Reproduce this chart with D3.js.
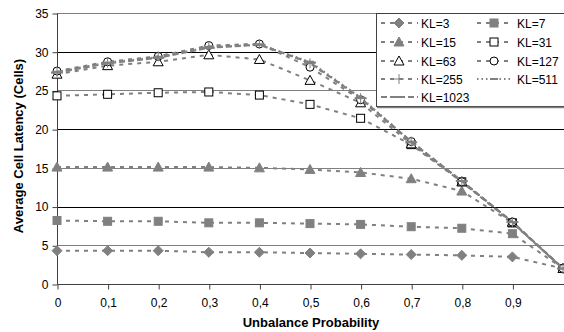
<!DOCTYPE html>
<html><head><meta charset="utf-8">
<script src="https://cdn.jsdelivr.net/npm/d3@7"></script>
<style>
html,body{margin:0;padding:0;background:#fff;overflow:hidden;}
svg{display:block;font-family:"Liberation Sans",Arial,sans-serif;}
</style></head>
<body>
<svg id="chart" width="564" height="332"></svg>
<script>
const xValues = [0,0.1,0.2,0.3,0.4,0.5,0.6,0.7,0.8,0.9,1.0];
const xTickValues = [0,0.1,0.2,0.3,0.4,0.5,0.6,0.7,0.8,0.9];
const xTickLabels = ["0","0,1","0,2","0,3","0,4","0,5","0,6","0,7","0,8","0,9"];
const yTickValues = [0,5,10,15,20,25,30,35];

const seriesNames = ["KL=3","KL=7","KL=15","KL=31","KL=63","KL=127","KL=255","KL=511","KL=1023"];
const kl3    = [4.3,4.3,4.3,4.1,4.1,4.0,3.9,3.8,3.7,3.5,2.0];
const kl7    = [8.2,8.1,8.1,7.9,7.9,7.8,7.7,7.4,7.2,6.5,2.0];
const kl15   = [15.1,15.1,15.1,15.1,15.0,14.8,14.4,13.6,12.0,7.9,2.0];
const kl31   = [24.3,24.5,24.7,24.8,24.4,23.2,21.4,18.0,13.2,7.9,2.0];
const kl63   = [27.1,28.2,28.7,29.6,29.0,26.3,23.4,18.1,13.2,8.0,2.0];
const kl127  = [27.5,28.7,29.4,30.8,31.0,28.0,23.8,18.4,13.2,8.0,2.0];
const kl255  = [27.4,28.6,29.4,30.7,31.0,28.5,24.0,18.4,13.3,8.0,2.0];
const kl511  = [27.4,28.6,29.3,30.6,30.9,28.7,24.1,18.4,13.3,8.0,2.0];
const kl1023 = [27.3,28.5,29.2,30.5,30.9,28.6,24.0,18.3,13.3,8.0,2.0];
const seriesValues = [kl3,kl7,kl15,kl31,kl63,kl127,kl255,kl511,kl1023];

const GRAY = "#808080";
const styles = [
  {marker:"diamond", fill:GRAY, stroke:GRAY, dash:"4,5"},
  {marker:"square", fill:GRAY, stroke:GRAY, dash:"4,5"},
  {marker:"triangle", fill:GRAY, stroke:GRAY, dash:"4,5"},
  {marker:"square", fill:"#fff", stroke:"#000", dash:"4,5"},
  {marker:"triangle", fill:"#fff", stroke:"#000", dash:"4,5"},
  {marker:"circle", fill:"#fff", stroke:"#000", dash:"4,5"},
  {marker:"plus", fill:"none", stroke:GRAY, dash:"4,5"},
  {marker:"dash", fill:"none", stroke:GRAY, dash:"1.5,3"},
  {marker:"longdash", fill:"none", stroke:GRAY, dash:"6,3"}
];

const svg = d3.select("#chart");
const x = d3.scaleLinear().domain([0,1]).range([57,563]);
const y = d3.scaleLinear().domain([0,35]).range([284,13]);

// gridlines
svg.append("g").selectAll("line").data(yTickValues.filter(d=>d>0)).join("line")
  .attr("x1",57).attr("x2",564)
  .attr("y1",d=>Math.round(y(d))+0.5).attr("y2",d=>Math.round(y(d))+0.5)
  .attr("stroke",d=> (d%10===0) ? "#000" : GRAY).attr("stroke-width",1);

// axes
const yAxis = d3.axisLeft(y).tickValues(yTickValues).tickSize(5).tickPadding(4).tickFormat(d3.format("d"));
const gy = svg.append("g").attr("transform","translate(57.5,0.5)").call(yAxis);
gy.select(".domain").attr("stroke","#404040").attr("d","M0,"+y(35)+"V"+y(0));
gy.selectAll(".tick line").attr("stroke","#404040");
gy.selectAll("text").attr("font-size",12).attr("fill","#000").attr("font-family","Liberation Sans, Arial, sans-serif");

const xAxis = d3.axisBottom(x).tickValues(xTickValues).tickSize(5).tickPadding(9).tickFormat((d,i)=>xTickLabels[i]);
const gx = svg.append("g").attr("transform","translate(0.5,284.5)").call(xAxis);
gx.select(".domain").attr("stroke","#404040").attr("d","M"+x(0)+",0H564");
gx.selectAll(".tick line").attr("stroke","#404040");
gx.selectAll("text").attr("font-size",12).attr("fill","#000").attr("font-family","Liberation Sans, Arial, sans-serif");

// axis titles
svg.append("text").attr("x",311).attr("y",327).attr("text-anchor","middle")
  .attr("font-size",13).attr("font-weight","bold").text("Unbalance Probability");
svg.append("text").attr("transform","translate(23,146) rotate(-90)").attr("text-anchor","middle")
  .attr("font-size",13).attr("font-weight","bold").text("Average Cell Latency (Cells)");

function drawMarker(g, st, cx, cy){
  const m = st.marker;
  if(m==="diamond"){
    g.append("path").attr("d",`M${cx},${cy-5}L${cx+5},${cy}L${cx},${cy+5}L${cx-5},${cy}Z`)
      .attr("fill",st.fill).attr("stroke",st.stroke);
  } else if(m==="square"){
    g.append("rect").attr("x",cx-4).attr("y",cy-4).attr("width",8).attr("height",8)
      .attr("fill",st.fill).attr("stroke",st.stroke);
  } else if(m==="triangle"){
    g.append("path").attr("d",`M${cx},${cy-5}L${cx+5},${cy+4}L${cx-5},${cy+4}Z`)
      .attr("fill",st.fill).attr("stroke",st.stroke);
  } else if(m==="circle"){
    g.append("circle").attr("cx",cx).attr("cy",cy).attr("r",4)
      .attr("fill",st.fill).attr("stroke",st.stroke);
  } else if(m==="plus"){
    g.append("path").attr("d",`M${cx-5},${cy}H${cx+5}M${cx},${cy-5}V${cy+5}`)
      .attr("stroke",st.stroke).attr("stroke-width",1);
  } else if(m==="dash"){
    g.append("path").attr("d",`M${cx-4},${cy}H${cx+4}`).attr("stroke",st.stroke).attr("stroke-width",2);
  } else if(m==="longdash"){
    g.append("path").attr("d",`M${cx-6},${cy}H${cx+6}`).attr("stroke",st.stroke).attr("stroke-width",2);
  }
}

const line = d3.line().x((d,i)=>x(xValues[i])).y(d=>y(d));
seriesValues.forEach((vals,si)=>{
  const st = styles[si];
  const g = svg.append("g");
  g.append("path").datum(vals).attr("d",line).attr("fill","none")
    .attr("stroke",GRAY).attr("stroke-width",2).attr("stroke-dasharray",st.dash);
  vals.forEach((v,i)=>drawMarker(g, st, x(xValues[i]), y(v)));
});

// legend
const lg = svg.append("g");
lg.append("rect").attr("x",376.5).attr("y",13.5).attr("width",200).attr("height",93)
  .attr("fill","#fff").attr("stroke","#404040").attr("stroke-width",1);
lg.append("line").attr("x1",377).attr("x2",564).attr("y1",107.5).attr("y2",107.5).attr("stroke",GRAY).attr("stroke-width",1.5);
const col1 = [0,2,4,6,8], col2 = [1,3,5,7];
const rowY = [23,42,61,79,97];
function legendItem(si, lx0, lx1, mx, tx, ly){
  const st = styles[si];
  lg.append("line").attr("x1",lx0).attr("x2",lx1).attr("y1",ly).attr("y2",ly)
    .attr("stroke",GRAY).attr("stroke-width",2).attr("stroke-dasharray",st.dash);
  drawMarker(lg, st, mx, ly);
  lg.append("text").attr("x",tx).attr("y",ly+4.5).attr("font-size",12).attr("fill","#000").text(seriesNames[si]);
}
col1.forEach((si,r)=>legendItem(si,381,418,399,421,rowY[r]));
col2.forEach((si,r)=>legendItem(si,477,513,494,517,rowY[r]));
</script>
</body></html>
